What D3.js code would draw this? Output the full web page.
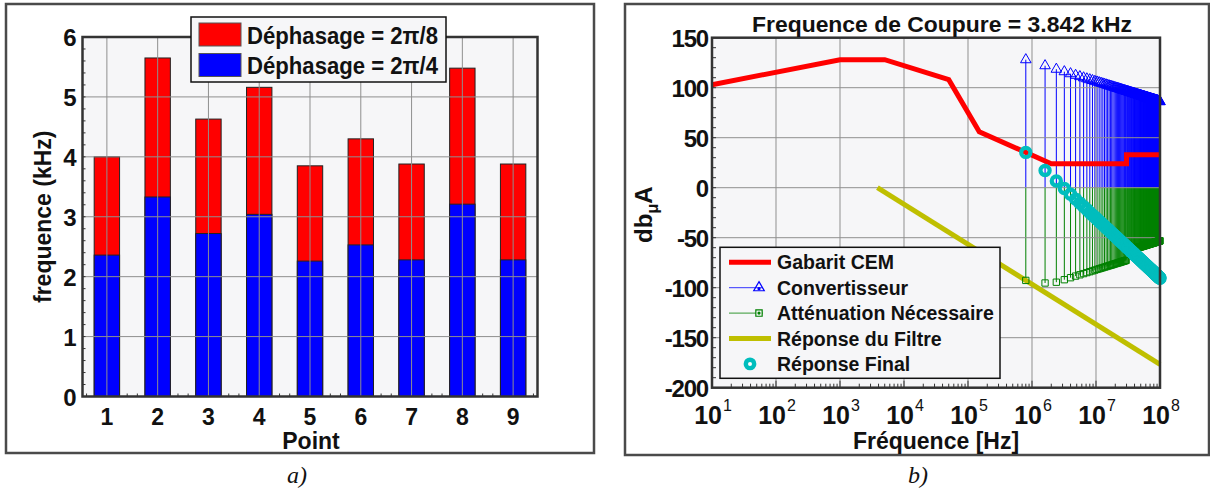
<!DOCTYPE html>
<html><head><meta charset="utf-8">
<script src="https://cdn.jsdelivr.net/npm/d3@7"></script>
<style>
body{margin:0;background:#fff}
svg{display:block}
text{font-family:"Liberation Sans",Arial,Helvetica,sans-serif;font-weight:bold;fill:#111}
</style>
</head><body>
<svg id="chart" width="1210" height="491"></svg>
<script>
// ---------------- Panel a) data ----------------
const points = [1, 2, 3, 4, 5, 6, 7, 8, 9];
const freqPi8 = [4.00, 5.65, 4.63, 5.16, 3.85, 4.30, 3.88, 5.48, 3.88]; // Déphasage = 2π/8 (kHz)
const freqPi4 = [2.36, 3.33, 2.72, 3.04, 2.26, 2.53, 2.28, 3.21, 2.28]; // Déphasage = 2π/4 (kHz)
const yTicksA = [0, 1, 2, 3, 4, 5, 6];
const legendA = ["Déphasage = 2π/8", "Déphasage = 2π/4"];

// ---------------- Panel b) data ----------------
const titleB = "Frequence de Coupure = 3.842 kHz";
const gabaritFreq = [10, 1000, 5000, 50000, 150000, 2e6, 3e7, 3e7, 1e8];
const gabaritDb   = [103, 128, 128, 108, 56, 24, 24, 33, 33];
const filtreFreq = [3842, 1e8];
const filtreDb   = [0, -176.6];
const harmMHz = [0.8,1.6,2.4,3.2,4,4.8,5.6,6.4,7.2,8,8.8,9.6,10.4,11.2,12,12.8,13.6,14.4,15.2,16,
  16.8,17.6,18.4,19.2,20,20.8,21.6,22.4,23.2,24,24.8,25.6,26.4,27.2,28,28.8,29.6,30.4,31.2,32,
  32.8,33.6,34.4,35.2,36,36.8,37.6,38.4,39.2,40,40.8,41.6,42.4,43.2,44,44.8,45.6,46.4,47.2,48,
  48.8,49.6,50.4,51.2,52,52.8,53.6,54.4,55.2,56,56.8,57.6,58.4,59.2,60,60.8,61.6,62.4,63.2,64,
  64.8,65.6,66.4,67.2,68,68.8,69.6,70.4,71.2,72,72.8,73.6,74.4,75.2,76,76.8,77.6,78.4,79.2,80,
  80.8,81.6,82.4,83.2,84,84.8,85.6,86.4,87.2,88,88.8,89.6,90.4,91.2,92,92.8,93.6,94.4,95.2,96,
  96.8,97.6,98.4,99.2,100];
const convDb = [128,122,118.5,116,114,112.4,111.1,109.9,108.9,108,107.2,106.4,105.7,105.1,104.5,103.9,103.4,102.9,102.4,102,
  101.6,101.2,100.8,100.4,100,99.7,99.4,99.1,98.8,98.5,98.2,97.9,97.6,97.4,97.1,96.9,96.6,96.4,96.2,96,
  95.7,95.5,95.3,95.1,94.9,94.7,94.6,94.4,94.2,94,93.8,93.7,93.5,93.3,93.2,93,92.9,92.7,92.6,92.4,
  92.3,92.2,92,91.9,91.7,91.6,91.5,91.4,91.2,91.1,91,90.9,90.7,90.6,90.5,90.4,90.3,90.2,90.1,89.9,
  89.8,89.7,89.6,89.5,89.4,89.3,89.2,89.1,89,88.9,88.8,88.7,88.6,88.5,88.4,88.4,88.3,88.2,88.1,88,
  87.9,87.8,87.7,87.7,87.6,87.5,87.4,87.3,87.3,87.2,87.1,87,86.9,86.9,86.8,86.7,86.6,86.6,86.5,86.4,
  86.3,86.3,86.2,86.1,86.1];
const attDb = [-92.7,-95.3,-94.5,-92,-90,-88.4,-87.1,-85.9,-84.9,-84,-83.2,-82.4,-81.7,-81.1,-80.5,-79.9,-79.4,-78.9,-78.4,-78,
  -77.6,-77.2,-76.8,-76.4,-76,-75.7,-75.4,-75.1,-74.8,-74.5,-74.2,-73.9,-73.6,-73.4,-73.1,-72.9,-72.6,-63.4,-63.2,-63,
  -62.7,-62.5,-62.3,-62.1,-61.9,-61.7,-61.6,-61.4,-61.2,-61,-60.8,-60.7,-60.5,-60.3,-60.2,-60,-59.9,-59.7,-59.6,-59.4,
  -59.3,-59.2,-59,-58.9,-58.7,-58.6,-58.5,-58.4,-58.2,-58.1,-58,-57.9,-57.7,-57.6,-57.5,-57.4,-57.3,-57.2,-57.1,-56.9,
  -56.8,-56.7,-56.6,-56.5,-56.4,-56.3,-56.2,-56.1,-56,-55.9,-55.8,-55.7,-55.6,-55.5,-55.5,-55.4,-55.3,-55.2,-55.1,-55,
  -54.9,-54.8,-54.7,-54.7,-54.6,-54.5,-54.4,-54.3,-54.3,-54.2,-54.1,-54,-53.9,-53.9,-53.8,-53.7,-53.6,-53.6,-53.5,-53.4,
  -53.3,-53.3,-53.2,-53.1,-53.1];
const finalDb = [35.3,17.2,6.7,-0.8,-6.6,-11.4,-15.4,-18.9,-21.9,-24.7,-27.2,-29.4,-31.5,-33.5,-35.3,-36.9,-38.5,-40,-41.4,-42.8,
  -44,-45.3,-46.4,-47.5,-48.6,-49.6,-50.6,-51.5,-52.5,-53.3,-54.2,-55,-55.8,-56.6,-57.3,-58.1,-58.8,-59.5,-60.2,-60.8,
  -61.5,-62.1,-62.7,-63.3,-63.9,-64.5,-65,-65.6,-66.1,-66.6,-67.2,-67.7,-68.2,-68.7,-69.1,-69.6,-70.1,-70.5,-71,-71.4,
  -71.8,-72.3,-72.7,-73.1,-73.5,-73.9,-74.3,-74.7,-75,-75.4,-75.8,-76.2,-76.5,-76.9,-77.2,-77.6,-77.9,-78.2,-78.6,-78.9,
  -79.2,-79.5,-79.8,-80.2,-80.5,-80.8,-81.1,-81.4,-81.7,-81.9,-82.2,-82.5,-82.8,-83.1,-83.4,-83.6,-83.9,-84.2,-84.4,-84.7,
  -85,-85.2,-85.5,-85.7,-86,-86.2,-86.5,-86.7,-87,-87.2,-87.4,-87.6,-87.9,-88.1,-88.3,-88.6,-88.8,-89,-89.2,-89.4,
  -89.7,-89.9,-90.1,-90.3,-90.5];
const yTicksB = [150, 100, 50, 0, -50, -100, -150, -200];
const xExpB = [1, 2, 3, 4, 5, 6, 7, 8];
const legendB = ["Gabarit CEM", "Convertisseur", "Atténuation Nécessaire", "Réponse du Filtre", "Réponse Final"];

// ---------------- drawing ----------------
const svg = d3.select("#chart");
const BG = "#f6f6f8", GRID = "#8f8f8f", AX = "#333";
const RED = "#ff0000", BLUE = "#0000ff", GREEN = "#008000", OLIVE = "#bfbf00", CYAN = "#00bdbd";

// frames
svg.append("rect").attr("x", 6).attr("y", 4).attr("width", 588).attr("height", 449)
  .attr("fill", "#fff").attr("stroke", "#4a4a4a").attr("stroke-width", 2.5);
svg.append("rect").attr("x", 625).attr("y", 4).attr("width", 584).attr("height", 451)
  .attr("fill", "#fff").attr("stroke", "#4a4a4a").attr("stroke-width", 2.5);

// ===== Panel a =====
const A = {l: 82.5, r: 537.5, t: 37, b: 396.5};
const xA = d3.scaleLinear().domain([0.52, 9.48]).range([A.l, A.r]);
const yA = d3.scaleLinear().domain([0, 6]).range([A.b, A.t]);
const gA = svg.append("g");
gA.append("rect").attr("x", A.l).attr("y", A.t).attr("width", A.r - A.l).attr("height", A.b - A.t).attr("fill", BG);
const minorXA = d3.range(0.6, 9.45, 0.2).filter(v => Math.abs(v - Math.round(v)) > 0.05);
gA.selectAll(".mxa").data(minorXA).join("line")
  .attr("x1", d => xA(d)).attr("x2", d => xA(d)).attr("y1", A.b).attr("y2", A.b - 3)
  .attr("stroke", AX).attr("stroke-width", 1);
const bw = (xA(1.5) - xA(1));
gA.selectAll(".barR").data(points).join("rect")
  .attr("x", (d) => xA(d) - bw / 2).attr("width", bw)
  .attr("y", (d, i) => yA(freqPi8[i])).attr("height", (d, i) => yA(0) - yA(freqPi8[i]))
  .attr("fill", RED).attr("stroke", "#222").attr("stroke-width", 1);
gA.selectAll(".barB").data(points).join("rect")
  .attr("x", (d) => xA(d) - bw / 2).attr("width", bw)
  .attr("y", (d, i) => yA(freqPi4[i])).attr("height", (d, i) => yA(0) - yA(freqPi4[i]))
  .attr("fill", BLUE).attr("stroke", "#222").attr("stroke-width", 1);
gA.selectAll(".gya").data(yTicksA.slice(1, -1)).join("line")
  .attr("x1", A.l).attr("x2", A.r).attr("y1", d => yA(d)).attr("y2", d => yA(d))
  .attr("stroke", GRID).attr("stroke-width", 1);
gA.selectAll(".gxa").data(points).join("line")
  .attr("x1", d => xA(d)).attr("x2", d => xA(d)).attr("y1", A.t).attr("y2", A.b)
  .attr("stroke", GRID).attr("stroke-width", 1);
gA.selectAll(".mya").data(d3.range(0.2, 6, 0.2)).join("line")
  .attr("x1", A.l).attr("x2", A.l + 3).attr("y1", d => yA(d)).attr("y2", d => yA(d))
  .attr("stroke", AX).attr("stroke-width", 1);
gA.append("rect").attr("x", A.l).attr("y", A.t).attr("width", A.r - A.l).attr("height", A.b - A.t)
  .attr("fill", "none").attr("stroke", AX).attr("stroke-width", 2.5);
gA.selectAll(".tya").data(yTicksA).join("text")
  .attr("x", A.l - 6).attr("y", d => yA(d) + 9).attr("text-anchor", "end")
  .attr("font-size", 24).text(d => d);
gA.selectAll(".txa").data(points).join("text")
  .attr("x", d => xA(d)).attr("y", 425).attr("text-anchor", "middle")
  .attr("font-size", 23).text(d => d);
gA.append("text").attr("x", (A.l + A.r) / 2 + 1).attr("y", 449).attr("text-anchor", "middle")
  .attr("font-size", 23).text("Point");
gA.append("text").attr("transform", `translate(51,${(A.t + A.b) / 2}) rotate(-90)`)
  .attr("text-anchor", "middle").attr("font-size", 23).text("frequence (kHz)");
const LA = {x: 191, y: 17, w: 255, h: 65};
gA.append("rect").attr("x", LA.x).attr("y", LA.y).attr("width", LA.w).attr("height", LA.h)
  .attr("fill", BG).attr("stroke", "#111").attr("stroke-width", 1.5);
[RED, BLUE].forEach((c, i) => {
  gA.append("rect").attr("x", 199).attr("y", 23 + i * 30.5).attr("width", 42).attr("height", 23)
    .attr("fill", c).attr("stroke", "#555").attr("stroke-width", 1);
  gA.append("text").attr("x", 247).attr("y", 44 + i * 29.5).attr("font-size", 24)
    .attr("textLength", 191).attr("lengthAdjust", "spacingAndGlyphs").text(legendA[i]);
});
svg.append("text").attr("x", 297).attr("y", 483).attr("text-anchor", "middle")
  .style("font-family", "'Liberation Serif','Times New Roman',serif").style("font-weight", "normal")
  .style("font-style", "italic").attr("font-size", 24).text("a)");

// ===== Panel b =====
const B = {l: 712, r: 1160, t: 37.7, b: 387.7};
const xB = d3.scaleLog().domain([10, 1e8]).range([B.l, B.r]);
const yB = d3.scaleLinear().domain([-200, 150]).range([B.b, B.t]);
const gB = svg.append("g");
gB.append("rect").attr("x", B.l).attr("y", B.t).attr("width", B.r - B.l).attr("height", B.b - B.t).attr("fill", BG);
const harm = harmMHz.map((f, i) => ({f: f * 1e6, conv: convDb[i], att: attDb[i], fin: finalDb[i]}));
gB.selectAll(".stB").data(harm).join("line")
  .attr("x1", d => xB(d.f)).attr("x2", d => xB(d.f)).attr("y1", yB(0)).attr("y2", d => yB(d.conv))
  .attr("stroke", BLUE).attr("stroke-width", 1);
gB.selectAll(".stG").data(harm).join("line")
  .attr("x1", d => xB(d.f)).attr("x2", d => xB(d.f)).attr("y1", yB(0)).attr("y2", d => yB(d.att))
  .attr("stroke", GREEN).attr("stroke-width", 1);
const decades = xExpB.map(e => Math.pow(10, e));
gB.selectAll(".gyb").data(yTicksB.slice(1, -1)).join("line")
  .attr("x1", B.l).attr("x2", B.r).attr("y1", d => yB(d)).attr("y2", d => yB(d))
  .attr("stroke", GRID).attr("stroke-width", 1);
gB.selectAll(".gxb").data(decades.slice(1, -1)).join("line")
  .attr("x1", d => xB(d)).attr("x2", d => xB(d)).attr("y1", B.t).attr("y2", B.b)
  .attr("stroke", GRID).attr("stroke-width", 1);
const lineB = d3.line().x(d => xB(d[0])).y(d => yB(d[1]));
gB.append("path").datum(gabaritFreq.map((f, i) => [f, gabaritDb[i]])).attr("d", lineB)
  .attr("fill", "none").attr("stroke", RED).attr("stroke-width", 5);
gB.append("path").datum(filtreFreq.map((f, i) => [f, filtreDb[i]])).attr("d", lineB)
  .attr("fill", "none").attr("stroke", OLIVE).attr("stroke-width", 5);
const tri = d3.symbol().type(d3.symbolTriangle).size(48);
const sq = d3.symbol().type(d3.symbolSquare).size(40);
gB.selectAll(".mkB").data(harm).join("path")
  .attr("transform", d => `translate(${xB(d.f)},${yB(d.conv)})`).attr("d", tri)
  .attr("fill", "none").attr("stroke", BLUE).attr("stroke-width", 1);
gB.selectAll(".mkG").data(harm).join("path")
  .attr("transform", d => `translate(${xB(d.f)},${yB(d.att)})`).attr("d", sq)
  .attr("fill", "none").attr("stroke", GREEN).attr("stroke-width", 1);
gB.selectAll(".mkC").data(harm).join("circle")
  .attr("cx", d => xB(d.f)).attr("cy", d => yB(d.fin)).attr("r", 4.6)
  .attr("fill", "none").attr("stroke", CYAN).attr("stroke-width", 4.2);
const minorXB = [];
decades.slice(0, -1).forEach(dv => { for (let k = 2; k <= 9; k++) minorXB.push(dv * k); });
gB.selectAll(".mxb").data(minorXB).join("line")
  .attr("x1", d => xB(d)).attr("x2", d => xB(d)).attr("y1", B.b).attr("y2", B.b - 4)
  .attr("stroke", AX).attr("stroke-width", 1);
gB.selectAll(".mjxb").data(decades).join("line")
  .attr("x1", d => xB(d)).attr("x2", d => xB(d)).attr("y1", B.b).attr("y2", B.b - 7)
  .attr("stroke", AX).attr("stroke-width", 1);
gB.selectAll(".myb").data(d3.range(-190, 150, 10)).join("line")
  .attr("x1", B.l).attr("x2", B.l + 4).attr("y1", d => yB(d)).attr("y2", d => yB(d))
  .attr("stroke", AX).attr("stroke-width", 1);
gB.append("rect").attr("x", B.l).attr("y", B.t).attr("width", B.r - B.l).attr("height", B.b - B.t)
  .attr("fill", "none").attr("stroke", AX).attr("stroke-width", 2.5);
gB.selectAll(".tyb").data(yTicksB).join("text")
  .attr("x", B.l - 4).attr("y", d => yB(d) + 9).attr("text-anchor", "end")
  .attr("font-size", 24).attr("letter-spacing", -1.2).text(d => d);
const txb = gB.selectAll(".txb").data(xExpB).join("text")
  .attr("x", d => xB(Math.pow(10, d)) + 1).attr("y", 424).attr("text-anchor", "middle").attr("font-size", 25);
txb.append("tspan").text("10");
txb.append("tspan").attr("dy", -13).attr("dx", 1).attr("font-size", 16).attr("font-weight", "normal").text(d => d);
gB.append("text").attr("x", (B.l + B.r) / 2).attr("y", 449).attr("text-anchor", "middle")
  .attr("font-size", 23).text("Fréquence [Hz]");
gB.append("text").attr("x", 942).attr("y", 32).attr("text-anchor", "middle")
  .attr("font-size", 22).attr("textLength", 380).attr("lengthAdjust", "spacingAndGlyphs").text(titleB);
const yl = gB.append("text").attr("transform", `translate(652,${(B.t + B.b) / 2 + 2}) rotate(-90)`)
  .attr("text-anchor", "middle").attr("font-size", 24);
yl.append("tspan").text("db");
yl.append("tspan").attr("dy", 6).attr("font-size", 16).text("μ");
yl.append("tspan").attr("dy", -6).text("A");
const LB = {x: 720, y: 247.3, w: 280, h: 131};
gB.append("rect").attr("x", LB.x).attr("y", LB.y).attr("width", LB.w).attr("height", LB.h)
  .attr("fill", BG).attr("stroke", "#111").attr("stroke-width", 1.5);
const rowY = i => 262.3 + i * 25.4;
legendB.forEach((t, i) => {
  gB.append("text").attr("x", 777).attr("y", rowY(i) + 7).attr("font-size", 19.5).text(t);
});
gB.append("line").attr("x1", 729).attr("x2", 771).attr("y1", rowY(0)).attr("y2", rowY(0)).attr("stroke", RED).attr("stroke-width", 5);
gB.append("line").attr("x1", 729).attr("x2", 763).attr("y1", rowY(1)).attr("y2", rowY(1)).attr("stroke", BLUE).attr("stroke-width", 0.8);
gB.append("path").attr("transform", `translate(759,${rowY(1)})`).attr("d", tri).attr("fill", "none").attr("stroke", BLUE).attr("stroke-width", 1.2);
gB.append("circle").attr("cx", 759).attr("cy", rowY(1) + 1).attr("r", 1.6).attr("fill", BLUE);
gB.append("line").attr("x1", 729).attr("x2", 763).attr("y1", rowY(2)).attr("y2", rowY(2)).attr("stroke", GREEN).attr("stroke-width", 0.8);
gB.append("path").attr("transform", `translate(759,${rowY(2)})`).attr("d", sq).attr("fill", BG).attr("stroke", GREEN).attr("stroke-width", 1.2);
gB.append("circle").attr("cx", 759).attr("cy", rowY(2)).attr("r", 1.6).attr("fill", GREEN);
gB.append("line").attr("x1", 729).attr("x2", 771).attr("y1", rowY(3)).attr("y2", rowY(3)).attr("stroke", OLIVE).attr("stroke-width", 5);
gB.append("circle").attr("cx", 750).attr("cy", rowY(4)).attr("r", 4.2).attr("fill", "#fff").attr("stroke", CYAN).attr("stroke-width", 4.4);
svg.append("text").attr("x", 918).attr("y", 483).attr("text-anchor", "middle")
  .style("font-family", "'Liberation Serif','Times New Roman',serif").style("font-weight", "normal")
  .style("font-style", "italic").attr("font-size", 24).text("b)");
</script>
</body></html>
